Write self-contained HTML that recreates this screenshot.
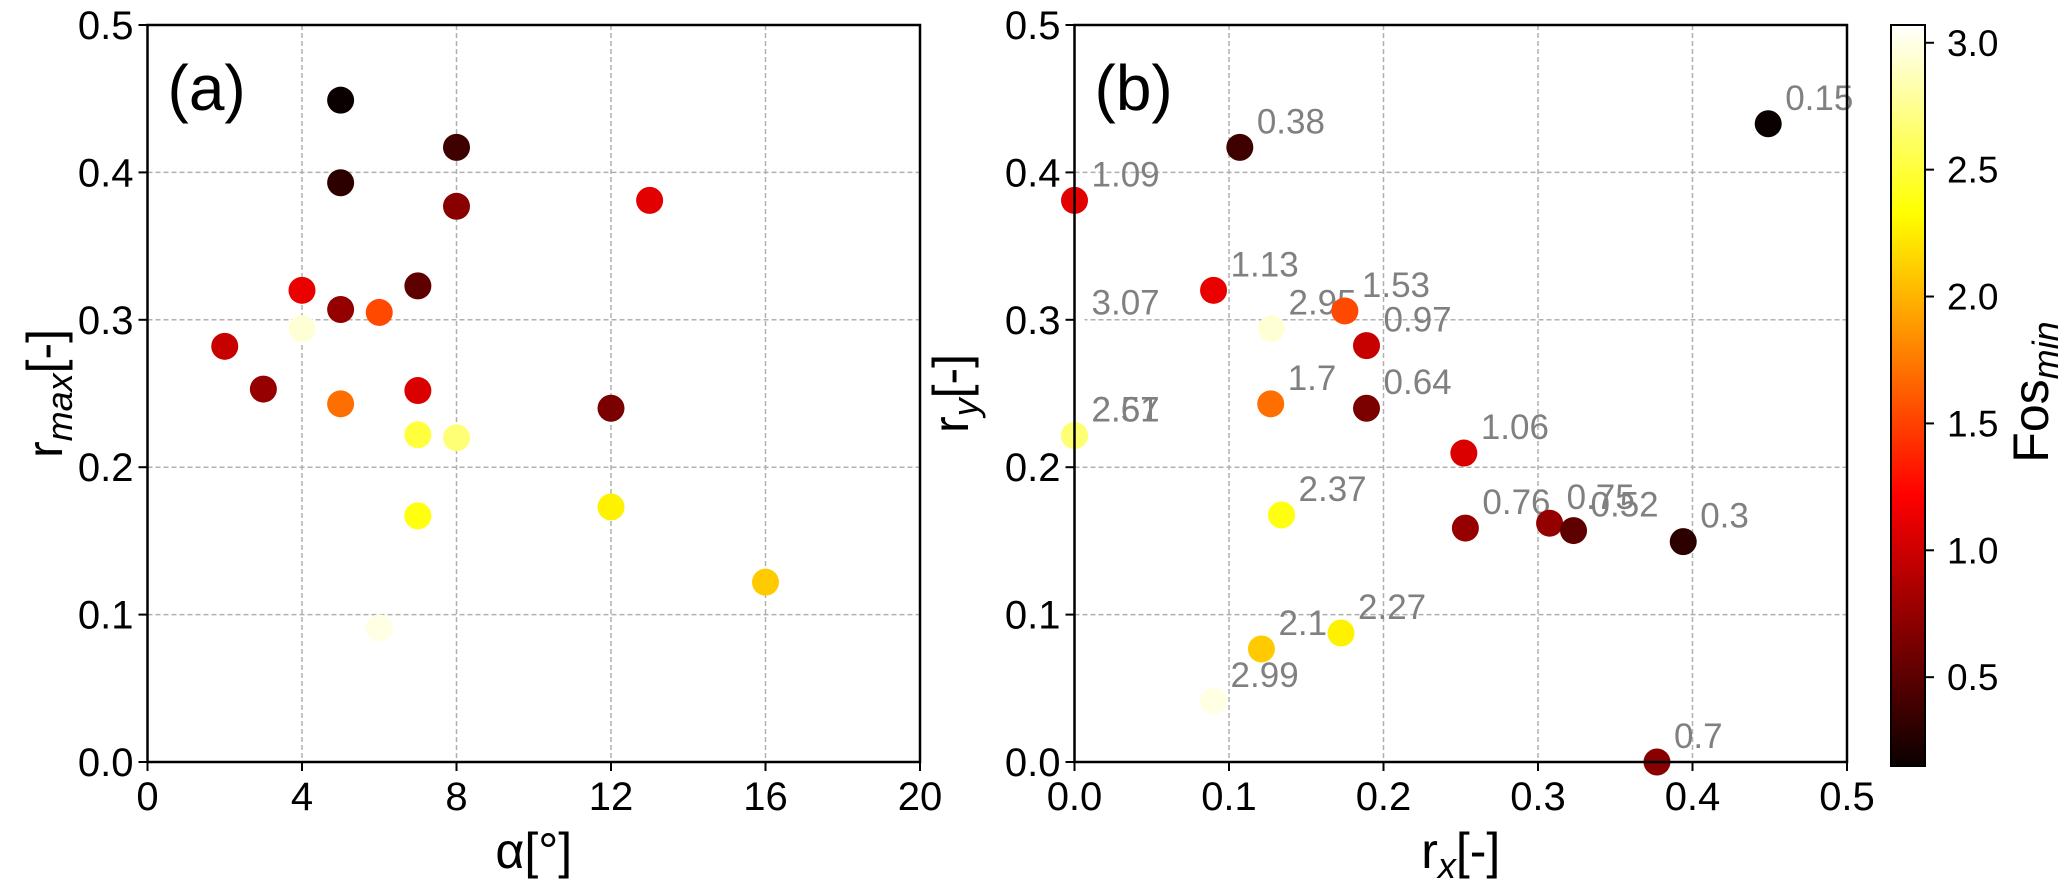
<!DOCTYPE html>
<html><head><meta charset="utf-8"><style>
html,body{margin:0;padding:0;background:#fff;}
svg{display:block;font-family:"Liberation Sans",Arial,sans-serif;}
</style></head><body>
<svg id="fig" width="2067" height="892" viewBox="0 0 2067 892" xmlns="http://www.w3.org/2000/svg">
<defs>
<linearGradient id="hotgrad" x1="0" y1="1" x2="0" y2="0">
<stop offset="0" stop-color="rgb(11,0,0)"/>
<stop offset="0.365" stop-color="rgb(255,0,0)"/>
<stop offset="0.746" stop-color="rgb(255,255,0)"/>
<stop offset="1" stop-color="rgb(255,255,255)"/>
</linearGradient>
</defs>
<g id="pa"></g>
<g id="pb"></g>
<g id="cb"></g>
</svg>
<script>
// Panel (a) data
const alphaVals = [4, 5, 5, 8, 8, 13, 4, 5, 6, 7, 4, 2, 3, 5, 7, 12, 7, 8, 7, 12, 16, 6];
const rmaxVals = [0.294, 0.449, 0.393, 0.417, 0.377, 0.381, 0.320, 0.307, 0.305, 0.323, 0.294, 0.282, 0.253, 0.243, 0.252, 0.240, 0.222, 0.220, 0.167, 0.173, 0.122, 0.091];
const fosA = [3.07, 0.15, 0.3, 0.38, 0.7, 1.09, 1.13, 0.75, 1.53, 0.52, 2.95, 0.97, 0.76, 1.7, 1.06, 0.64, 2.51, 2.67, 2.37, 2.27, 2.1, 2.99];
// Panel (b) data
const rxVals = [0.449, 0.107, 0.0, 0.090, 0.1275, 0.175, 0.189, 0.0, 0.127, 0.189, 0.0, 0.0, 0.252, 0.134, 0.253, 0.3075, 0.323, 0.394, 0.121, 0.1725, 0.090, 0.377];
const ryVals = [0.433, 0.417, 0.381, 0.320, 0.294, 0.306, 0.2825, 0.294, 0.243, 0.240, 0.2215, 0.2215, 0.2096, 0.1676, 0.1587, 0.162, 0.157, 0.1495, 0.0767, 0.0875, 0.0414, 0.0];
const fosB = [0.15, 0.38, 1.09, 1.13, 2.95, 1.53, 0.97, 3.07, 1.7, 0.64, 2.51, 2.67, 1.06, 2.37, 0.76, 0.75, 0.52, 0.3, 2.1, 2.27, 2.99, 0.7];
const xTicksA = [0, 4, 8, 12, 16, 20];
const xTicksB = ["0.0", "0.1", "0.2", "0.3", "0.4", "0.5"];
const yTicks = ["0.0", "0.1", "0.2", "0.3", "0.4", "0.5"];
const cbTicks = ["0.5", "1.0", "1.5", "2.0", "2.5", "3.0"];
const fosMin = 0.15, fosMax = 3.07;

const NS = "http://www.w3.org/2000/svg";
function mk(parent, tag, attrs, text) {
  const e = document.createElementNS(NS, tag);
  for (const k in attrs) e.setAttribute(k, attrs[k]);
  if (text !== undefined) e.textContent = text;
  parent.appendChild(e);
  return e;
}
function hot(v) {
  let t = (v - fosMin) / (fosMax - fosMin);
  t = Math.max(0, Math.min(1, t));
  const r = Math.min(1, 0.0416 + t / 0.365 * 0.9584);
  const g = Math.max(0, Math.min(1, (t - 0.365) / 0.381));
  const b = Math.max(0, Math.min(1, (t - 0.746) / 0.254));
  return `rgb(${Math.round(r * 255)},${Math.round(g * 255)},${Math.round(b * 255)})`;
}
const TOP = 25, BOT = 762;
function yScale(v) { return BOT - v / 0.5 * (BOT - TOP); }

function addParts(el, parts) {
  parts.forEach(p => {
    if (p.sub) mk(el, "tspan", {"font-size": 36, dy: 10, "font-style": "italic"}, p.t);
    else if (p.after) mk(el, "tspan", {dy: -10}, p.t);
    else mk(el, "tspan", {}, p.t);
  });
}

function panel(g, L, R, xmax, xticks, xs, ys, fos, labels, xlabelParts, ylabelParts, tag) {
  const xScale = v => L + v / xmax * (R - L);
  xticks.forEach(t => {
    const x = xScale(+t);
    const l = mk(g, "line", {x1: x, x2: x, y1: TOP, y2: BOT, stroke: "#b0b0b0", "stroke-width": 1.5, "stroke-dasharray": "5,3"});
    
    
  });
  yTicks.forEach(t => {
    const y = yScale(+t);
    const l = mk(g, "line", {x1: L, x2: R, y1: y, y2: y, stroke: "#b0b0b0", "stroke-width": 1.5, "stroke-dasharray": "5,3"});
    
    
  });
  xs.forEach((xv, i) => {
    const c = mk(g, "circle", {cx: xScale(xv), cy: yScale(ys[i]), r: 13.5, fill: hot(fos[i])});
    
    
    if (labels) {
      const t = mk(g, "text", {x: xScale(xv) + 17, y: yScale(ys[i]) - 14, "font-size": 35, fill: "#808080"}, String(fos[i]));
      
      
    }
  });
  const fr = mk(g, "rect", {x: L, y: TOP, width: R - L, height: BOT - TOP, fill: "none", stroke: "#000", "stroke-width": 2.5});
  
  
  xticks.forEach(t => {
    const x = xScale(+t);
    mk(g, "line", {x1: x, x2: x, y1: BOT, y2: BOT + 9, stroke: "#000", "stroke-width": 2});
    const tx = mk(g, "text", {x: x, y: BOT + 48, "font-size": 40, "text-anchor": "middle"}, String(t));
    
    
  });
  yTicks.forEach(t => {
    const y = yScale(+t);
    mk(g, "line", {x1: L - 9, x2: L, y1: y, y2: y, stroke: "#000", "stroke-width": 2});
    const tx = mk(g, "text", {x: L - 14, y: y + 14, "font-size": 40, "text-anchor": "end"}, t);
    
    
  });
  const pt = mk(g, "text", {x: L + 20, y: TOP + 85, "font-size": 64}, tag);
  
  
  const xl = mk(g, "text", {x: (L + R) / 2, y: 868, "font-size": 50, "text-anchor": "middle"});
  
  
  addParts(xl, xlabelParts);
  const yl = mk(g, "text", {x: 0, y: 0, "font-size": 50, "text-anchor": "middle", transform: `translate(${ylabelParts.x},${(TOP + BOT) / 2}) rotate(-90)`});
  
  
  addParts(yl, ylabelParts.parts);
}

panel(document.getElementById("pa"), 147.5, 920, 20, xTicksA, alphaVals, rmaxVals, fosA, false,
  [{t: "α[°]"}], {x: 62, parts: [{t: "r"}, {t: "max", sub: true}, {t: "[-]", after: true}]}, "(a)");
panel(document.getElementById("pb"), 1074.5, 1847, 0.5, xTicksB, rxVals, ryVals, fosB, true,
  [{t: "r"}, {t: "x", sub: true}, {t: "[-]", after: true}], {x: 968, parts: [{t: "r"}, {t: "y", sub: true}, {t: "[-]", after: true}]}, "(b)");

const cb = document.getElementById("cb");
const CBL = 1891, CBR = 1925, CBT = 25, CBB = 766;
const cbY = v => CBB - (v - fosMin) / (fosMax - fosMin) * (CBB - CBT);
const cr = mk(cb, "rect", {x: CBL, y: CBT, width: CBR - CBL, height: CBB - CBT, fill: "url(#hotgrad)", stroke: "#000", "stroke-width": 2});


cbTicks.forEach(t => {
  const y = cbY(+t);
  mk(cb, "line", {x1: CBR, x2: CBR + 9, y1: y, y2: y, stroke: "#000", "stroke-width": 2});
  const tx = mk(cb, "text", {x: CBR + 22, y: y + 13, "font-size": 37}, t);
  
  
});
const cl = mk(cb, "text", {x: 0, y: 0, "font-size": 50, "text-anchor": "middle", transform: "translate(2048,392) rotate(-90)"});


mk(cl, "tspan", {}, "Fos");
mk(cl, "tspan", {"font-size": 36, dy: 10, "font-style": "italic"}, "min");
</script>
</body></html>
